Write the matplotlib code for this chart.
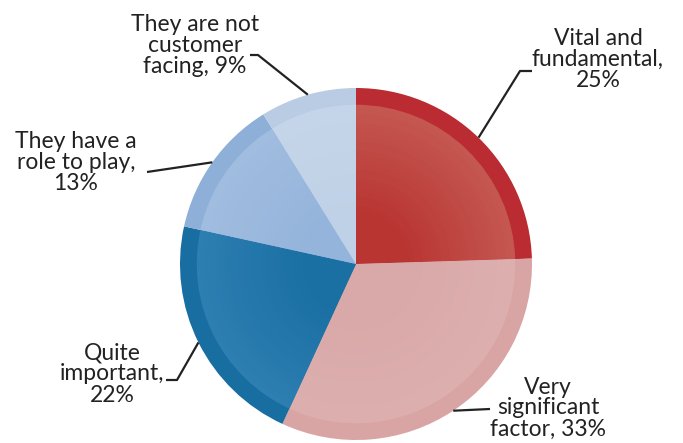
import numpy as np
import matplotlib.pyplot as plt
from matplotlib.colors import to_rgb

# data
labels = ["Vital and\nfundamental,\n25%", "Very\nsignificant\nfactor, 33%",
          "Quite\nimportant,\n22%", "They have a\nrole to play,\n13%",
          "They are not\ncustomer\nfacing, 9%"]
values = [25, 33, 22, 13, 9]
outer_colors = ["#BA2C32", "#D8A4A4", "#186DA1", "#8EAFD7", "#B9CCE3"]
edge_colors = ["#C45750", "#DCAFAE", "#2D7EB1", "#A0BCDF", "#C5D5E9"]
inner_colors = ["#B93532", "#D9A8A8", "#1A6FA3", "#95B4DB", "#BFD1E6"]

W, H = 683, 443
fig = plt.figure(figsize=(W / 100, H / 100), dpi=100)
ax = fig.add_axes([0, 0, 1, 1])

cx, cy, r = 356, H - 264, 176

wedges, _ = ax.pie(values, colors=outer_colors, startangle=90, counterclock=False,
                   center=(cx, cy), radius=r, frame=True,
                   wedgeprops=dict(linewidth=0))

# soft radial shading inside the outer rim
steps = 24
for k, f in enumerate(np.linspace(0.905, 0.3, steps)):
    t = k / (steps - 1)
    cols = [tuple((1 - t) * np.array(to_rgb(e)) + t * np.array(to_rgb(c)))
            for e, c in zip(edge_colors, inner_colors)]
    ax.pie(values, colors=cols, startangle=90, counterclock=False,
           center=(cx, cy), radius=r * f, frame=True,
           wedgeprops=dict(linewidth=0))

ax.set_xlim(0, W)
ax.set_ylim(0, H)
ax.set_aspect("equal")
ax.axis("off")

# label layout: text centre, elbow point, line end (pixel coords, y down)
layout = [
    ((598, 59), (520, 71), (532, 71)),
    ((548, 408), (490, 409), (490, 409)),
    ((112, 374), (177, 380), (166, 380)),
    ((76, 162), (147, 172), (147, 172)),
    ((195, 45), (258, 55), (250, 55)),
]

for w, lab, (txt, elbow, end) in zip(wedges, labels, layout):
    mid = np.deg2rad((w.theta1 + w.theta2) / 2)
    tip = (cx + r * np.cos(mid), cy + r * np.sin(mid))
    xs = [tip[0], elbow[0], end[0]]
    ys = [tip[1], H - elbow[1], H - end[1]]
    ax.plot(xs, ys, color="#222222", linewidth=1.6, solid_capstyle="butt")
    ax.text(txt[0], H - txt[1], lab, ha="center", va="center", fontsize=16.5,
            family=["Lato", "DejaVu Sans"], color="#222222", linespacing=1.0)

fig.savefig("out.png", dpi=100)
